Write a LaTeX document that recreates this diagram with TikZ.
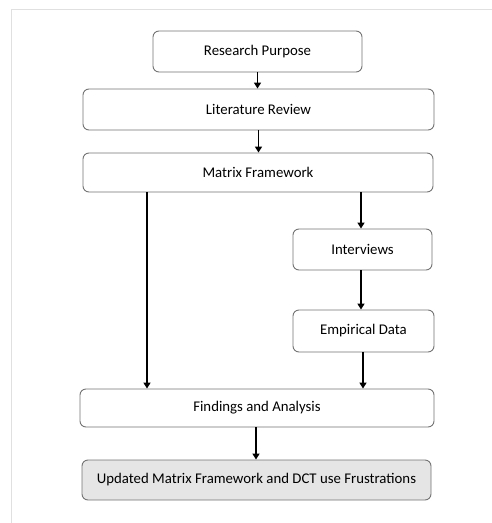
\documentclass[tikz,border=0pt]{standalone}
\usepackage{fontspec}
\setmainfont{Carlito}
\usetikzlibrary{arrows.meta,positioning}
\begin{document}
\begin{tikzpicture}[x=1pt,y=-1pt,
  box/.style={draw=black!55,line width=0.9pt,rounded corners=6pt,fill=white,
    inner sep=0pt,font=\fontsize{14.8}{16}\selectfont,text=black},
  arr/.style={line width=1.8pt,-{Triangle[width=7pt,length=6pt]}}]
\useasboundingbox (0,0) rectangle (492,523);
\draw[black!12,line width=1pt] (11.5,523) -- (11.5,9) -- (492,9);
\node[box,minimum width=209pt,minimum height=41pt] (rp) at (257.5,51.5) {Research Purpose};
\node[box,minimum width=351pt,minimum height=41pt] (lr) at (258.5,109.5) {Literature Review};
\node[box,minimum width=350pt,minimum height=39pt] (mf) at (258,172.5) {Matrix Framework};
\node[box,minimum width=139pt,minimum height=41pt] (iv) at (362.5,249.5) {Interviews};
\node[box,minimum width=141pt,minimum height=42pt] (ed) at (363.5,331) {Empirical Data};
\node[box,minimum width=354pt,minimum height=38pt] (fa) at (257,408) {Findings and Analysis};
\node[box,fill=black!10,minimum width=349pt,minimum height=40pt] (uf) at (256.5,480) {Updated Matrix Framework and DCT use Frustrations};
\coordinate (lx) at (147,0);
\coordinate (rx) at (361,0);
\coordinate (ex) at (363,0);
\coordinate (cx) at (256,0);
\draw[arr] (rp.south) -- (lr.north -| rp.south);
\draw[arr] (lr.south) -- (mf.north -| lr.south);
\draw[arr] (mf.south -| lx) -- (fa.north -| lx);
\draw[arr] (mf.south -| rx) -- (iv.north -| rx);
\draw[arr] (iv.south -| rx) -- (ed.north -| rx);
\draw[arr] (ed.south -| ex) -- (fa.north -| ex);
\draw[arr] (fa.south -| cx) -- (uf.north -| cx);
\end{tikzpicture}
\end{document}
